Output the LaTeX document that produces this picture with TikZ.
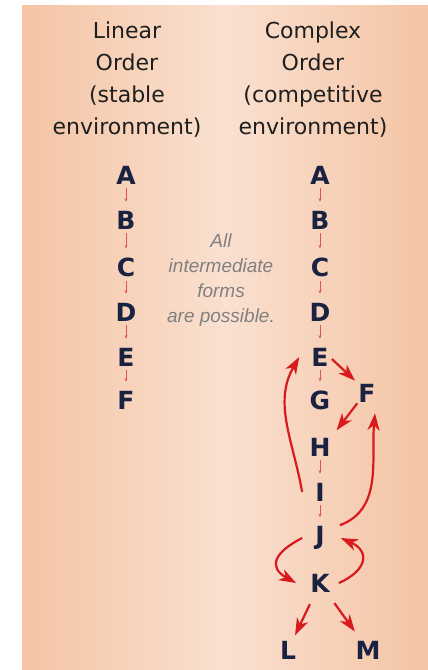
\documentclass[tikz,border=0pt]{standalone}
\usepackage{fontspec}
\usetikzlibrary{arrows.meta}

\newfontfamily\headfont{DejaVu Sans}
\newfontfamily\notefont{Liberation Sans}

\definecolor{peach}{RGB}{244,196,164}
\definecolor{peachlight}{RGB}{250,224,208}
\definecolor{navy}{RGB}{26,34,66}
\definecolor{arrowred}{RGB}{216,26,30}

\tikzset{
  letter/.style={font=\headfont\bfseries\fontsize{25}{25}\selectfont, text=navy, inner sep=1pt},
  headtxt/.style={font=\headfont\fontsize{22}{32}\selectfont, align=center, text=black!88},
  notetxt/.style={font=\notefont\itshape\fontsize{19}{25}\selectfont, align=center, text=black!50},
  steplink/.style={draw=arrowred!75, line width=0.6pt, -{Stealth[length=3.5pt,width=3pt]}, shorten <=3pt, shorten >=8pt},
  bigarrow/.style={draw=arrowred, line width=2.2pt, -{Stealth[length=17pt,width=12pt,inset=5pt]}}
}

\begin{document}
\begin{tikzpicture}[x=1pt,y=1pt]
  % Frame and background
  \useasboundingbox (0,0) rectangle (428,-670);
  \shade[left color=peach, right color=peach, middle color=peachlight] (22,-5) rectangle (428,-670);

  % Headings
  \node[headtxt] (linhead) at (127,-80) {Linear\\Order\\(stable\\environment)};
  \node[headtxt] (comphead) at (313,-80) {Complex\\Order\\(competitive\\environment)};

  % Linear order
  \node[letter] (la) at (126,-175) {A};
  \node[letter] (lb) at (126,-220) {B};
  \node[letter] (lc) at (126,-267) {C};
  \node[letter] (ld) at (126,-312) {D};
  \node[letter] (le) at (126,-357) {E};
  \node[letter] (lf) at (126,-400) {F};

  % Complex order
  \node[letter] (ca) at (320,-175) {A};
  \node[letter] (cb) at (320,-220) {B};
  \node[letter] (cc) at (320,-267) {C};
  \node[letter] (cd) at (320,-312) {D};
  \node[letter] (ce) at (320,-357) {E};
  \node[letter] (cg) at (320,-400) {G};
  \node[letter] (cf) at (367,-393) {F};
  \node[letter] (ch) at (320,-447) {H};
  \node[letter] (ci) at (320,-492) {I};
  \node[letter] (cj) at (320,-538) {J};
  \node[letter] (ck) at (320,-583) {K};
  \node[letter] (cl) at (288,-650) {L};
  \node[letter] (cm) at (368,-650) {M};

  % Note in between
  \node[notetxt] (mid) at (221,-280) {All\\intermediate\\forms\\are possible.};

  % Small steps
  \foreach \a/\b in {la/lb,lb/lc,lc/ld,ld/le,le/lf,ca/cb,cb/cc,cc/cd,cd/ce,ce/cg,ch/ci,ci/cj}
    \draw[steplink] (\a) -- (\b);

  % Big moves
  \draw[bigarrow, shorten <=3pt, shorten >=3pt] (ce.east) -- (cf.north west);
  \draw[bigarrow, shorten >=8pt] (cf.south west) -- (ch.north east);
  \draw[bigarrow] ([xshift=-12pt]ci.west) to[out=100,in=240] ([xshift=-11pt]ce.west);
  \draw[bigarrow] ([xshift=14pt]cj.north east) to[out=20,in=-95] ([xshift=8pt,yshift=-10pt]cf.south);
  \draw[bigarrow] ([xshift=-12pt]cj.west) to[out=207,in=151,looseness=1.8] ([xshift=-13pt]ck.west);
  \draw[bigarrow] ([xshift=8pt]ck.east) to[out=24,in=-24,looseness=1.8] ([xshift=15pt]cj.east);
  \draw[bigarrow, shorten <=12pt, shorten >=5pt] (ck) -- (cl);
  \draw[bigarrow, shorten <=12pt, shorten >=10pt] (ck) -- (cm);
\end{tikzpicture}
\end{document}
